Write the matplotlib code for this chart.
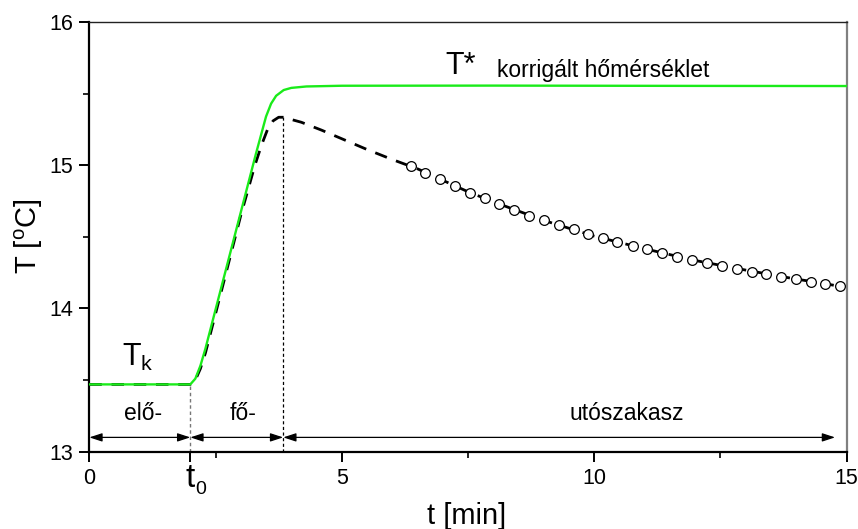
import matplotlib
matplotlib.use('Agg')
from matplotlib import pyplot as plt
from matplotlib.ticker import FixedLocator

plt.rcParams['font.family'] = ['Liberation Sans', 'DejaVu Sans']
plt.rcParams['mathtext.default'] = 'regular'

# measured temperature (dashed) - fore period, main period and peak
meas_t = [0, 2.0, 2.1, 2.2, 2.3, 2.6, 3.0, 3.28, 3.41, 3.53, 3.64, 3.75, 3.84,
          4.2, 4.6, 5.0, 5.5, 6.0, 6.5, 7.0, 7.5, 8.0, 9.0, 10.0, 11.0, 12.0,
          13.0, 14.0, 14.5, 14.93]
meas_T = [13.47, 13.47, 13.50, 13.58, 13.69, 14.10, 14.65, 15.00, 15.14, 15.25,
          15.31, 15.335, 15.335, 15.30, 15.245, 15.185, 15.11, 15.04, 14.975,
          14.895, 14.815, 14.745, 14.615, 14.505, 14.417, 14.335, 14.268,
          14.205, 14.178, 14.15]

# corrected temperature T* (green)
corr_t = [0, 2.0, 2.1, 2.2, 2.3, 2.8, 3.3, 3.4, 3.5, 3.6, 3.7, 3.85, 4.0, 4.3,
          5.0, 8.0, 12.0, 15.0]
corr_T = [13.47, 13.47, 13.51, 13.60, 13.72, 14.40, 15.08, 15.21, 15.34, 15.43,
          15.485, 15.525, 15.54, 15.55, 15.555, 15.556, 15.554, 15.553]

# after-period readings (open circles)
pts_t = [6.37, 6.65, 6.95, 7.24, 7.54, 7.84, 8.12, 8.42, 8.71, 9.01, 9.30, 9.59,
         9.88, 10.17, 10.46, 10.76, 11.05, 11.35, 11.63, 11.93, 12.23, 12.53,
         12.82, 13.12, 13.40, 13.69, 13.99, 14.29, 14.57, 14.87]
pts_T = [14.995, 14.944, 14.902, 14.855, 14.809, 14.770, 14.730, 14.688, 14.648,
         14.618, 14.583, 14.553, 14.518, 14.490, 14.464, 14.436, 14.413, 14.385,
         14.362, 14.339, 14.316, 14.297, 14.276, 14.257, 14.241, 14.222, 14.204,
         14.185, 14.173, 14.157]

t0 = 2.0
t_peak = 3.84
T_peak = 15.335
T_k = 13.47
arrow_y = 13.10
arrow_end = 14.77

fig = plt.figure(figsize=(8.58, 5.29), dpi=100)
ax = fig.add_axes([0.1041, 0.1461, 0.8827, 0.8123])

ax.plot(corr_t, corr_T, '-', color='#1aeb1a', lw=1.7, zorder=3)
ax.plot(meas_t, meas_T, '--', color='black', lw=2.0, dashes=(4.5, 3.5), zorder=2)
ax.plot(pts_t, pts_T, 'o', ms=7.0, mfc='white', mec='black', mew=0.9, zorder=4)

# guide lines
ax.plot([t0, t0], [13.0, T_k], ':', color='#777777', lw=1.0, dashes=(2.5, 2))
ax.plot([t_peak, t_peak], [13.0, T_peak], ':', color='black', lw=0.9, dashes=(2.5, 2))

# period arrows
for a, b in [(0, t0), (t0, t_peak), (t_peak, arrow_end)]:
    ax.annotate('', xy=(b, arrow_y), xytext=(a, arrow_y),
                arrowprops=dict(arrowstyle='<|-|>,head_length=0.55,head_width=0.18',
                                color='black', lw=0.9, shrinkA=0, shrinkB=0,
                                mutation_scale=14))

ax.text(1.06, 13.27, 'elő-', fontsize=16.5, ha='center', va='center')
ax.text(3.05, 13.27, 'fő-', fontsize=16.5, ha='center', va='center')
ax.text(10.65, 13.27, 'utószakasz', fontsize=16.5, ha='center', va='center')
ax.text(0.97, 13.66, 'T$_k$', fontsize=22, ha='center', va='center')
ax.text(7.36, 15.69, 'T*', fontsize=22, ha='center', va='center')
ax.text(8.07, 15.66, 'korrigált hőmérséklet', fontsize=16.5, ha='left', va='center')

ax.set_xlim(0, 15)
ax.set_ylim(13, 16)
ax.xaxis.set_major_locator(FixedLocator([0, t0, 5, 10, 15]))
ax.set_xticklabels(['0', '', '5', '10', '15'])
ax.xaxis.set_minor_locator(FixedLocator([2.5, 7.5, 12.5]))
ax.set_yticks([13, 14, 15, 16])
ax.yaxis.set_minor_locator(FixedLocator([13.5, 14.5, 15.5]))
ax.tick_params(which='major', direction='out', length=7.5, width=1.4, labelsize=15.5, pad=4)
ax.tick_params(which='minor', direction='out', length=4, width=1.2)

# t0 tick label
xtr = ax.get_xaxis_transform()
ax.text(t0, -0.026, 't', transform=xtr, fontsize=24, ha='center', va='top')
ax.text(t0 + 0.2, -0.089, '0', transform=xtr, fontsize=14, ha='center', va='center')

for side in ['left', 'bottom']:
    ax.spines[side].set_linewidth(1.6)
    ax.spines[side].set_color('black')
ax.spines['top'].set_linewidth(1.0)
ax.spines['top'].set_color('#222222')
ax.spines['right'].set_linewidth(1.6)
ax.spines['right'].set_color('#808080')

fig.text(0.544, 0.025, 't [min]', fontsize=21, ha='center', va='center')
fig.text(0.034, 0.553, 'T [$^{o}$C]', fontsize=21, ha='center', va='center', rotation=90)

fig.savefig('out.png', dpi=100)
